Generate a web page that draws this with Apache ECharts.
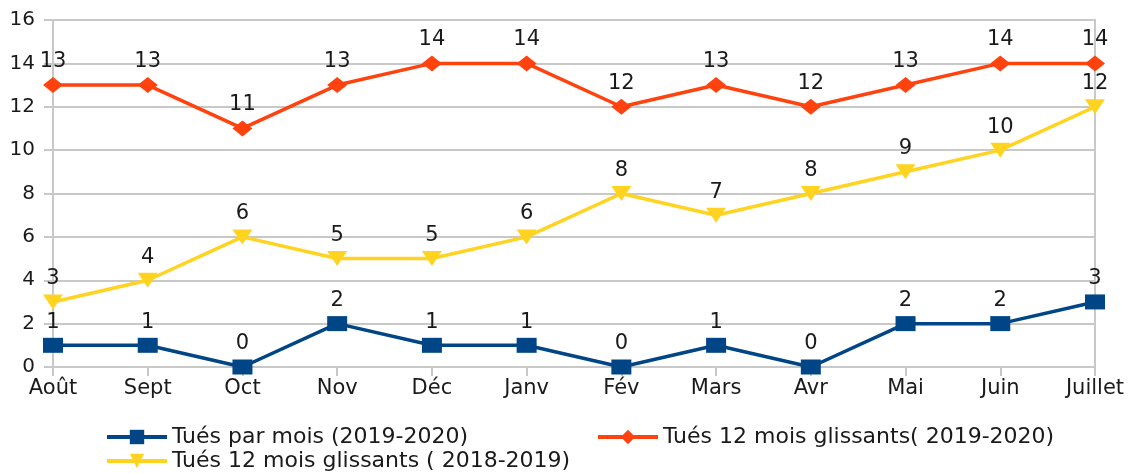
<!DOCTYPE html>
<html><head><meta charset="utf-8">
<script src="https://cdn.jsdelivr.net/npm/echarts@6/dist/echarts.min.js"></script>
<style>html,body{margin:0;padding:0;background:#fff}#c{width:1135px;height:474px}</style>
</head><body><div id="c"></div>
<script>
const categories = ['Août','Sept','Oct','Nov','Déc','Janv','Fév','Mars','Avr','Mai','Juin','Juillet'];
const tuesParMois = [1,1,0,2,1,1,0,1,0,2,2,3];
const glissants1920 = [13,13,11,13,14,14,12,13,12,13,14,14];
const glissants1819 = [3,4,6,5,5,6,8,7,8,9,10,12];
const names = ['Tués par mois (2019-2020)','Tués 12 mois glissants( 2019-2020)','Tués 12 mois glissants ( 2018-2019)'];
const colors = ['#004586','#ff420e','#ffd320'];
const FONT = 'DejaVu Sans';
const GRID = '#c8c8c8';
const chart = echarts.init(document.getElementById('c'));
function ser(i, data, symbol, size, rot){
  return {name:names[i], type:'line', data:data, symbol:symbol, symbolSize:size, symbolRotate:rot||0,
    showAllSymbol:true,
    lineStyle:{color:colors[i], width:3.5}, itemStyle:{color:colors[i]},
    label:{show:true, position:'top', distance:5, color:'#1a1a1a', fontFamily:FONT, fontSize:21},
    animation:false, z: 3-i};
}
function leg(i,left,top){
  return {data:[names[i]], left:left, top:top, padding:0, itemWidth:60, itemHeight:18,
    lineStyle:{width:4},
    textStyle:{fontFamily:FONT, fontSize:22, color:'#1a1a1a'}, selectedMode:false};
}
chart.setOption({
  animation:false,
  grid:{left:53, right:40, top:20, bottom:107, show:true, borderColor:GRID, borderWidth:2},
  legend:[leg(0,105,426), leg(1,596,426), leg(2,105,450)],
  xAxis:{type:'category', data:categories, boundaryGap:false,
    axisLine:{lineStyle:{color:GRID, width:2}},
    axisTick:{show:true, alignWithLabel:true, length:9, lineStyle:{color:GRID, width:2}},
    axisLabel:{color:'#1a1a1a', fontFamily:FONT, fontSize:21, margin:11, interval:0},
    splitLine:{show:false}},
  yAxis:{type:'value', min:0, max:16, interval:2,
    axisLine:{show:true, lineStyle:{color:GRID, width:2}},
    axisTick:{show:true, length:9, lineStyle:{color:GRID, width:2}},
    axisLabel:{color:'#1a1a1a', fontFamily:FONT, fontSize:20, margin:18},
    splitLine:{lineStyle:{color:GRID, width:2}}},
  series:[
    ser(0, tuesParMois, 'rect', [20,15]),
    ser(1, glissants1920, 'diamond', [20,16]),
    ser(2, glissants1819, 'triangle', [20,15], 180)
  ]
});
</script></body></html>
